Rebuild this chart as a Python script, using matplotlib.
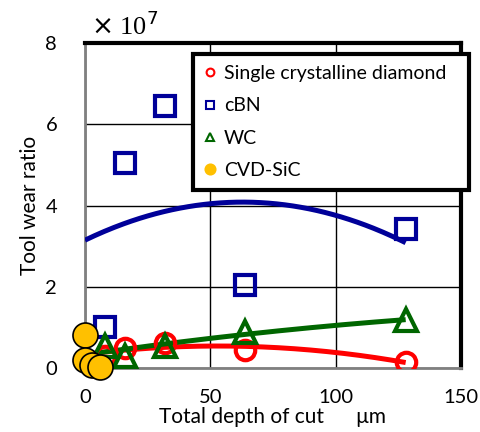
import numpy as np
import matplotlib.pyplot as plt

# Data (tool wear ratio in units of 1e7)
depth = [8, 16, 32, 64, 128]
scd_ratio = [0.3, 0.5, 0.62, 0.45, 0.15]
cbn_ratio = [1.0, 5.05, 6.45, 2.05, 3.42]
wc_ratio = [0.55, 0.3, 0.55, 0.9, 1.18]
sic_depth = [0, 0, 3, 6]
sic_ratio = [0.82, 0.2, 0.08, 0.03]

plt.rcParams['font.family'] = ['Lato', 'DejaVu Sans']

fig = plt.figure(figsize=(4.8, 4.32), dpi=100)
ax = fig.add_axes([0.177, 0.148, 0.783, 0.752])

# trend lines (2nd order polynomial fits, like the spreadsheet)
xs = np.linspace(0, 128, 200)
for y, c in [(cbn_ratio, '#000099'), (scd_ratio, '#ff0000'), (wc_ratio, '#006600')]:
    p = np.polyfit(depth, y, 2)
    ax.plot(xs, np.polyval(p, xs), color=c, lw=3.6, zorder=3, solid_capstyle='butt')

ax.plot(depth, scd_ratio, 'o', ms=14, mfc='none', mec='#ff0000', mew=3, zorder=4,
        label='Single crystalline diamond')
ax.plot(depth, cbn_ratio, 's', ms=14, mfc='none', mec='#000099', mew=3, zorder=4,
        label='cBN')
ax.plot(depth, wc_ratio, '^', ms=16, mfc='none', mec='#006600', mew=3, zorder=4,
        label='WC')
ax.plot(sic_depth, sic_ratio, 'o', ms=18, mfc='#ffc000', mec='black', mew=1.2, zorder=5,
        label='CVD-SiC', clip_on=False)

ax.set_xlim(0, 150)
ax.set_ylim(0, 8)
ax.set_xticks([0, 50, 100, 150])
ax.set_yticks([0, 2, 4, 6, 8])
ax.tick_params(length=0, labelsize=14.5)
ax.tick_params(axis='x', pad=15)
ax.tick_params(axis='y', pad=20)
ax.grid(True, color='black', lw=1)
ax.set_axisbelow(True)
for s in ['left', 'bottom']:
    ax.spines[s].set_color('#808080')
    ax.spines[s].set_linewidth(2)
for s in ['top', 'right']:
    ax.spines[s].set_color('black')
    ax.spines[s].set_linewidth(3)

ax.set_xlabel('Total depth of cut      μm', fontsize=15, labelpad=1)
ax.set_ylabel('Tool wear ratio', fontsize=15, labelpad=4)

fig.text(0.19, 0.92, r'$\times$ 10$^7$', fontsize=19, family='Liberation Serif')

leg = ax.legend(loc='upper left', mode='expand',
                bbox_to_anchor=(0.402, 0.876, 0.575, 0.0), bbox_transform=fig.transFigure,
                fontsize=14, markerscale=0.4, handlelength=0.6, handletextpad=0.4,
                labelspacing=0.78, fancybox=False, framealpha=1, borderpad=0.6,
                borderaxespad=0)
leg.get_frame().set_edgecolor('black')
leg.get_frame().set_linewidth(3)
for h in leg.legend_handles:
    h.set_markeredgewidth(1.5)
leg.legend_handles[3].set_markeredgecolor('#ffc000')

fig.savefig('out.png', dpi=100)
